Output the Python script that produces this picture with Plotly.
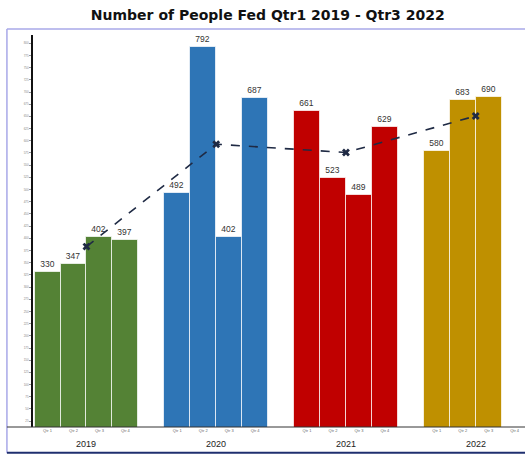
import plotly.graph_objects as go

years = ["2019", "2020", "2021", "2022"]
quarters = ["Qtr 1", "Qtr 2", "Qtr 3", "Qtr 4"]
fed_2019 = [330, 347, 402, 397]
fed_2020 = [492, 792, 402, 687]
fed_2021 = [661, 523, 489, 629]
fed_2022 = [580, 683, 690]
yearly_avg = [383, 593, 576, 651]
colors = ["#548235", "#2E75B6", "#C00000", "#BF9000"]
y_ticks = list(range(25, 801, 25))

series = [fed_2019, fed_2020, fed_2021, fed_2022]
slot = 5  # 4 quarters + 1 gap per year group

fig = go.Figure()
for gi, (yr, vals) in enumerate(zip(years, series)):
    xs = [gi * slot + qi for qi in range(len(vals))]
    fig.add_trace(go.Bar(
        x=xs, y=vals, name=yr, width=1,
        marker=dict(color=colors[gi], line=dict(color="rgba(255,255,255,0.7)", width=1)),
        text=vals, textposition="outside", cliponaxis=False,
        textfont=dict(family="Liberation Sans", size=8.5, color="#333333"),
        showlegend=False,
    ))

centers = [gi * slot + 1.5 for gi in range(len(years))]
fig.add_trace(go.Scatter(
    x=centers, y=yearly_avg, mode="lines+markers",
    line=dict(color="#1F2A44", width=1.6, dash="dash"),
    marker=dict(symbol="x", size=7, color="#1F2A44"),
    showlegend=False, cliponaxis=False,
))

tickvals = [gi * slot + qi for gi in range(len(years)) for qi in range(len(quarters))]
ticktext = [q for _ in years for q in quarters]

annotations = [
    dict(x=c, y=0, xref="x", yref="paper", text=yr, showarrow=False,
         yanchor="top", yshift=-10,
         font=dict(family="Liberation Sans", size=9, color="#222222"))
    for c, yr in zip(centers, years)
]

shapes = [
    dict(type="line", xref="paper", yref="paper", x0=-0.053, x1=1.02, y0=1.0153, y1=1.0153,
         line=dict(color="#A8A8E8", width=1.5)),
    dict(type="line", xref="paper", yref="paper", x0=-0.053, x1=-0.053, y0=-0.066, y1=1.0153,
         line=dict(color="#A8A8E8", width=1.5)),
    dict(type="line", xref="paper", yref="paper", x0=-0.053, x1=1.02, y0=-0.066, y1=-0.066,
         line=dict(color="#1F2F6F", width=2)),
    dict(type="line", xref="paper", yref="paper", x0=-0.053, x1=1.02, y0=0, y1=0,
         line=dict(color="#333333", width=1)),
]

fig.update_layout(
    width=525, height=454,
    margin=dict(l=33, r=0, t=35, b=27),
    paper_bgcolor="white", plot_bgcolor="white",
    barmode="overlay", bargap=0,
    title=dict(text="<b>Number of People Fed Qtr1 2019 - Qtr3 2022</b>",
               x=0.51, xref="container", xanchor="center", y=0.967, yanchor="middle",
               font=dict(family="DejaVu Sans", size=14, color="#111111")),
    xaxis=dict(range=[-0.56, 18.4], tickvals=tickvals, ticktext=ticktext,
               tickfont=dict(family="Liberation Sans", size=4, color="#666666"),
               showgrid=False, zeroline=False, showline=False, ticks=""),
    yaxis=dict(range=[13, 817], tickvals=y_ticks, ticks="outside", ticklen=2,
               tickcolor="#999999", tickfont=dict(family="Liberation Sans", size=3, color="#888888"),
               showgrid=False, zeroline=False, showline=True, linecolor="#111111", linewidth=1.5),
    annotations=annotations,
    shapes=shapes,
)

fig.write_html(
    "out.html",
    config={"displayModeBar": False},
    post_script="document.body.style.margin='0';document.body.style.overflow='hidden';",
)
